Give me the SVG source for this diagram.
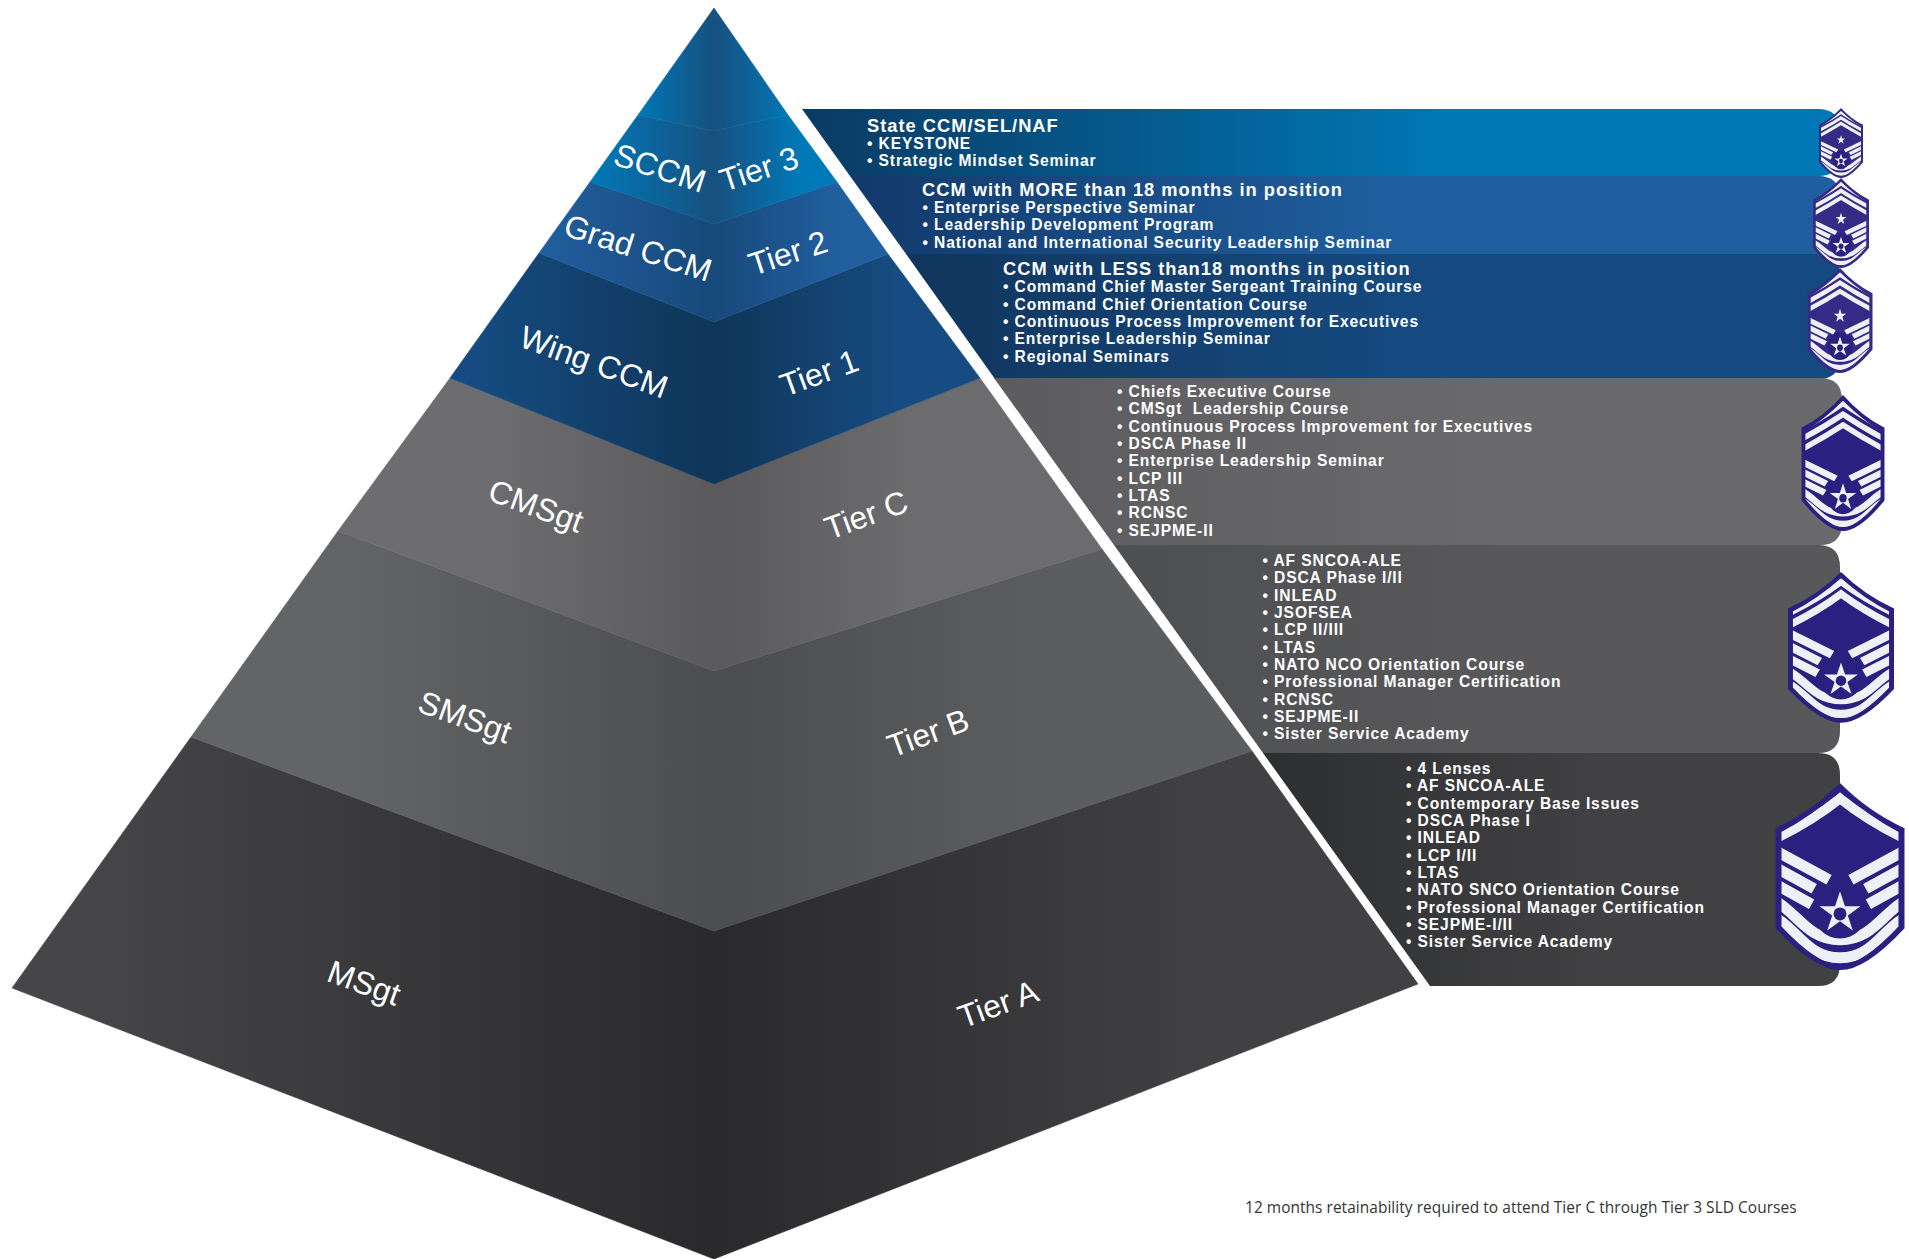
<svg xmlns="http://www.w3.org/2000/svg" width="1909" height="1259" viewBox="0 0 1909 1259">
<style>
.py{font:32px "Liberation Sans",Arial,sans-serif;fill:#fff;text-anchor:middle}
.h{font:bold 18.3px "Liberation Sans",Arial,sans-serif;fill:#fff;letter-spacing:1px}
.b{font:bold 15.6px "Liberation Sans",Arial,sans-serif;fill:#fff;letter-spacing:.88px}
.n{font:15.45px "Open Sans",sans-serif;fill:#333;letter-spacing:.05px}
.st{fill:none;stroke:#eef0f5}
.sl{stroke-width:.6}
</style>
<defs>
<linearGradient id="gCap" gradientUnits="userSpaceOnUse" x1="590" x2="838" y1="0" y2="0"><stop offset="0.18" stop-color="#0079b8"/><stop offset=".5" stop-color="#17507f"/><stop offset=".82" stop-color="#0079b8"/></linearGradient>
<linearGradient id="gT3" gradientUnits="userSpaceOnUse" x1="590" x2="838" y1="0" y2="0"><stop offset="0" stop-color="#0079b8"/><stop offset=".5" stop-color="#17507f"/><stop offset=".85" stop-color="#0079b8"/></linearGradient>
<linearGradient id="gT2" gradientUnits="userSpaceOnUse" x1="539" x2="889" y1="0" y2="0"><stop offset="0" stop-color="#215f9f"/><stop offset=".5" stop-color="#17497a"/><stop offset=".85" stop-color="#215f9f"/></linearGradient>
<linearGradient id="gT1" gradientUnits="userSpaceOnUse" x1="450" x2="980" y1="0" y2="0"><stop offset="0.05" stop-color="#154b80"/><stop offset=".5" stop-color="#0f3558"/><stop offset=".85" stop-color="#174c82"/></linearGradient>
<linearGradient id="gC" gradientUnits="userSpaceOnUse" x1="338" x2="1102" y1="0" y2="0"><stop offset="0.2" stop-color="#6d6d70"/><stop offset=".5" stop-color="#5a5a5d"/><stop offset=".75" stop-color="#6c6c6f"/></linearGradient>
<linearGradient id="gB" gradientUnits="userSpaceOnUse" x1="191" x2="1252" y1="0" y2="0"><stop offset="0.15" stop-color="#636466"/><stop offset=".5" stop-color="#4c4d4f"/><stop offset=".8" stop-color="#5c5d5f"/></linearGradient>
<linearGradient id="gA" gradientUnits="userSpaceOnUse" x1="12" x2="1418" y1="0" y2="0"><stop offset="0.05" stop-color="#464648"/><stop offset=".5" stop-color="#2a2a2c"/><stop offset=".85" stop-color="#414143"/></linearGradient>
<linearGradient id="p1" gradientUnits="userSpaceOnUse" x1="802" x2="1450" y1="0" y2="0"><stop offset="0" stop-color="#0b3a62"/><stop offset="1" stop-color="#0078b6"/></linearGradient>
<linearGradient id="p2" gradientUnits="userSpaceOnUse" x1="850" x2="1400" y1="0" y2="0"><stop offset="0" stop-color="#12396a"/><stop offset="1" stop-color="#1f5f9f"/></linearGradient>
<linearGradient id="p3" gradientUnits="userSpaceOnUse" x1="905" x2="1400" y1="0" y2="0"><stop offset="0" stop-color="#11355c"/><stop offset="1" stop-color="#154a80"/></linearGradient>
<linearGradient id="p4" gradientUnits="userSpaceOnUse" x1="995" x2="1500" y1="0" y2="0"><stop offset="0" stop-color="#5c5c5f"/><stop offset="1" stop-color="#6a6a6d"/></linearGradient>
<linearGradient id="p5" gradientUnits="userSpaceOnUse" x1="1114" x2="1500" y1="0" y2="0"><stop offset="0" stop-color="#4e4f51"/><stop offset="1" stop-color="#58585a"/></linearGradient>
<linearGradient id="p6" gradientUnits="userSpaceOnUse" x1="1263" x2="1600" y1="0" y2="0"><stop offset="0" stop-color="#2d2e30"/><stop offset="1" stop-color="#414143"/></linearGradient>

<path id="shield" d="M0 0Q45 45 100 70V225Q40 290 0 290Q-40 290-100 225V70Q-45 45 0 0Z"/>
<clipPath id="inner"><path d="M0 12Q45 52 91 76V222Q35 282 0 282Q-35 282-91 222V76Q-45 52 0 12Z"/></clipPath>
<polygon id="star" points="0,-30 7,-9 29,-9 11,4 18,25 0,12 -18,25 -11,4 -29,-9 -7,-9"/>
<g id="lowerBars">
<g class="st" stroke-width="17">
<path d="M-100 105L-17 150M100 105L17 150"/>
<path d="M-100 131L-40 164M100 131L40 164"/>
<path d="M-100 157L-44 188M100 157L44 188"/>
<path d="M-100 183C-65 203-50 243 0 243C50 243 65 203 100 183"/>
<path d="M-100 209C-65 229-50 271 0 271C50 271 65 229 100 209"/>
</g>
</g>
<g id="ms">
<use href="#shield" fill="#2a2080"/>
<g clip-path="url(#inner)"><path class="st" stroke-width="15" d="M-100 86Q-45 60 0 24Q45 60 100 86"/>
<use href="#lowerBars"/></g>
<circle cy="199" r="42" fill="#2a2080"/>
<use href="#star" fill="#eef0f5" transform="translate(0 201) scale(1.1)"/>
<circle cy="203" r="10" fill="#2a2080"/>
</g>
<g id="sms">
<use href="#shield" fill="#2a2080"/>
<g clip-path="url(#inner)"><path class="st" stroke-width="14" d="M-100 79Q-45 52 0 18Q45 52 100 79M-100 103Q-45 76 0 42Q45 76 100 103"/>
<use href="#lowerBars" transform="translate(0 18) scale(1 .94)"/></g>
<circle cy="205" r="40" fill="#2a2080"/>
<use href="#star" fill="#eef0f5" transform="translate(0 207) scale(1.1)"/>
<circle cy="209" r="10" fill="#2a2080"/>
</g>
<g id="cms">
<use href="#shield" fill="#2a2080"/>
<g clip-path="url(#inner)"><path class="st" stroke-width="12" d="M-100 72Q-45 46 0 18Q45 46 100 72M-100 94Q-45 68 0 41Q45 68 100 94M-100 116Q-45 90 0 64Q45 90 100 116"/>
<use href="#lowerBars" transform="translate(0 58) scale(1 .8)"/></g>
<circle cy="216" r="38" fill="#2a2080"/>
<use href="#star" fill="#eef0f5" transform="translate(0 218) scale(1.1 1)"/>
<circle cy="220" r="9" fill="#2a2080"/>
</g>
<g id="ccm">
<use href="#shield" fill="#352a85"/>
<g clip-path="url(#inner)"><path class="st" stroke-width="13" d="M-100 72Q-45 46 0 18Q45 46 100 72M-100 94Q-45 68 0 41Q45 68 100 94M-100 116Q-45 90 0 64Q45 90 100 116"/>
<use href="#lowerBars" transform="translate(0 58) scale(1 .8)"/></g>
<circle cy="216" r="38" fill="#2a2080"/>
<use href="#star" fill="#eef0f5" transform="translate(0 132) scale(.66)"/>
<use href="#star" fill="#eef0f5" transform="translate(0 218) scale(1.05 .95)"/>
<circle cy="220" r="9" fill="#2a2080"/>
</g>
</defs>

<g id="pyramid">
<g id="tierA"><polygon class="sl" stroke="url(#gA)" points="191,737 714,931 1252,751 1418,984 714,1259 12,988" fill="url(#gA)"/><text class="py" transform="translate(364 983) rotate(20)" y="11">MSgt</text><text class="py" transform="translate(998 1004) rotate(-20)" y="11">Tier A</text></g>
<g id="tierB"><polygon class="sl" stroke="url(#gB)" points="338,531 714,671 1102,549 1252,751 714,931 191,737" fill="url(#gB)"/><text class="py" transform="translate(465 717) rotate(20)" y="11">SMSgt</text><text class="py" transform="translate(928 733) rotate(-20)" y="11">Tier B</text></g>
<g id="tierC"><polygon class="sl" stroke="url(#gC)" points="450,378 714,484 980,378 1102,549 714,671 338,531" fill="url(#gC)"/><text class="py" transform="translate(536 506) rotate(20)" y="11">CMSgt</text><text class="py" transform="translate(866 515) rotate(-20)" y="11">Tier C</text></g>
<g id="tier1"><polygon class="sl" stroke="url(#gT1)" points="539,253 714,322 888,254 980,378 714,484 450,378" fill="url(#gT1)"/><text class="py" transform="translate(594 362) rotate(20)" y="11">Wing CCM</text><text class="py" transform="translate(819 373) rotate(-20)" y="11">Tier 1</text></g>
<g id="tier2"><polygon class="sl" stroke="url(#gT2)" points="590,182 714,224 837,182 888,254 714,322 539,253" fill="url(#gT2)"/><text class="py" transform="translate(638 248) rotate(18)" y="11">Grad CCM</text><text class="py" transform="translate(788 253) rotate(-18)" y="11">Tier 2</text></g>
<g id="tier3"><polygon class="sl" stroke="url(#gT3)" points="638,115 713,131 788,115 837,182 714,224 590,182" fill="url(#gT3)"/><text class="py" transform="translate(660 168) rotate(18)" y="11">SCCM</text><text class="py" transform="translate(759 169) rotate(-18)" y="11">Tier 3</text></g>
<g id="cap"><polygon class="sl" stroke="url(#gCap)" points="714,8 788,115 713,131 638,115" fill="url(#gCap)"/></g>
</g>

<g id="panels">
<g id="panel1"><path d="M802 109H1818Q1840 109 1840 131V154Q1840 176 1818 176H850Z" fill="url(#p1)"/>
<text class="h" x="867" y="132">State CCM/SEL/NAF</text>
<text class="b" x="867" y="149">• KEYSTONE</text>
<text class="b" x="867" y="166">• Strategic Mindset Seminar</text></g>
<g id="panel2"><path d="M850 176H1818Q1840 176 1840 198V232Q1840 254 1818 254H906Z" fill="url(#p2)"/>
<text class="h" x="922" y="196">CCM with MORE than 18 months in position</text>
<text class="b" x="922.500" y="213">• Enterprise Perspective Seminar</text>
<text class="b" x="922.500" y="230">• Leadership Development Program</text>
<text class="b" x="922.500" y="248">• National and International Security Leadership Seminar</text></g>
<g id="panel3"><path d="M906 254H1818Q1840 254 1840 276V357Q1840 379 1818 379H995Z" fill="url(#p3)"/>
<text class="h" x="1003" y="275">CCM with LESS than18 months in position</text>
<text class="b" x="1003" y="292">• Command Chief Master Sergeant Training Course</text>
<text class="b" x="1003" y="310">• Command Chief Orientation Course</text>
<text class="b" x="1003" y="327">• Continuous Process Improvement for Executives</text>
<text class="b" x="1003" y="344">• Enterprise Leadership Seminar</text>
<text class="b" x="1003" y="362">• Regional Seminars</text></g>
<g id="panel4"><path d="M994 378H1820Q1842 378 1842 400V523Q1842 545 1820 545H1114Z" fill="url(#p4)"/>
<text class="b" x="1117" y="397">• Chiefs Executive Course</text>
<text class="b" x="1117" y="414" xml:space="preserve">• CMSgt  Leadership Course</text>
<text class="b" x="1117" y="432">• Continuous Process Improvement for Executives</text>
<text class="b" x="1117" y="449">• DSCA Phase II</text>
<text class="b" x="1117" y="466">• Enterprise Leadership Seminar</text>
<text class="b" x="1117" y="484">• LCP III</text>
<text class="b" x="1117" y="501">• LTAS</text>
<text class="b" x="1117" y="518">• RCNSC</text>
<text class="b" x="1117" y="536">• SEJPME-II</text></g>
<g id="panel5"><path d="M1114 545H1818Q1840 545 1840 567V731Q1840 753 1818 753H1263Z" fill="url(#p5)"/>
<text class="b" x="1262.500" y="566">• AF SNCOA-ALE</text>
<text class="b" x="1262.500" y="583">• DSCA Phase I/II</text>
<text class="b" x="1262.500" y="601">• INLEAD</text>
<text class="b" x="1262.500" y="618">• JSOFSEA</text>
<text class="b" x="1262.500" y="635">• LCP II/III</text>
<text class="b" x="1262.500" y="653">• LTAS</text>
<text class="b" x="1262.500" y="670">• NATO NCO Orientation Course</text>
<text class="b" x="1262.500" y="687">• Professional Manager Certification</text>
<text class="b" x="1262.500" y="705">• RCNSC</text>
<text class="b" x="1262.500" y="722">• SEJPME-II</text>
<text class="b" x="1262.500" y="739">• Sister Service Academy</text></g>
<g id="panel6"><path d="M1263 753H1818Q1840 753 1840 775V964Q1840 986 1818 986H1430Z" fill="url(#p6)"/>
<text class="b" x="1406" y="774">• 4 Lenses</text>
<text class="b" x="1406" y="791">• AF SNCOA-ALE</text>
<text class="b" x="1406" y="809">• Contemporary Base Issues</text>
<text class="b" x="1406" y="826">• DSCA Phase I</text>
<text class="b" x="1406" y="843">• INLEAD</text>
<text class="b" x="1406" y="861">• LCP I/II</text>
<text class="b" x="1406" y="878">• LTAS</text>
<text class="b" x="1406" y="895">• NATO SNCO Orientation Course</text>
<text class="b" x="1406" y="913">• Professional Manager Certification</text>
<text class="b" x="1406" y="930">• SEJPME-I/II</text>
<text class="b" x="1406" y="947">• Sister Service Academy</text></g>
</g>

<g id="insignia">
<use href="#ccm" transform="translate(1841 108) scale(.22 .241)"/>
<use href="#ccm" transform="translate(1841 178) scale(.28 .31)"/>
<use href="#ccm" transform="translate(1840 268) scale(.325 .362)"/>
<use href="#cms" transform="translate(1843 395) scale(.415 .469)"/>
<use href="#sms" transform="translate(1841 572) scale(.53 .52)"/>
<use href="#ms" transform="translate(1840 783) scale(.645)"/>
</g>

<text id="note" class="n" x="1245" y="1212.500">12 months retainability required to attend Tier C through Tier 3 SLD Courses</text>
</svg>
